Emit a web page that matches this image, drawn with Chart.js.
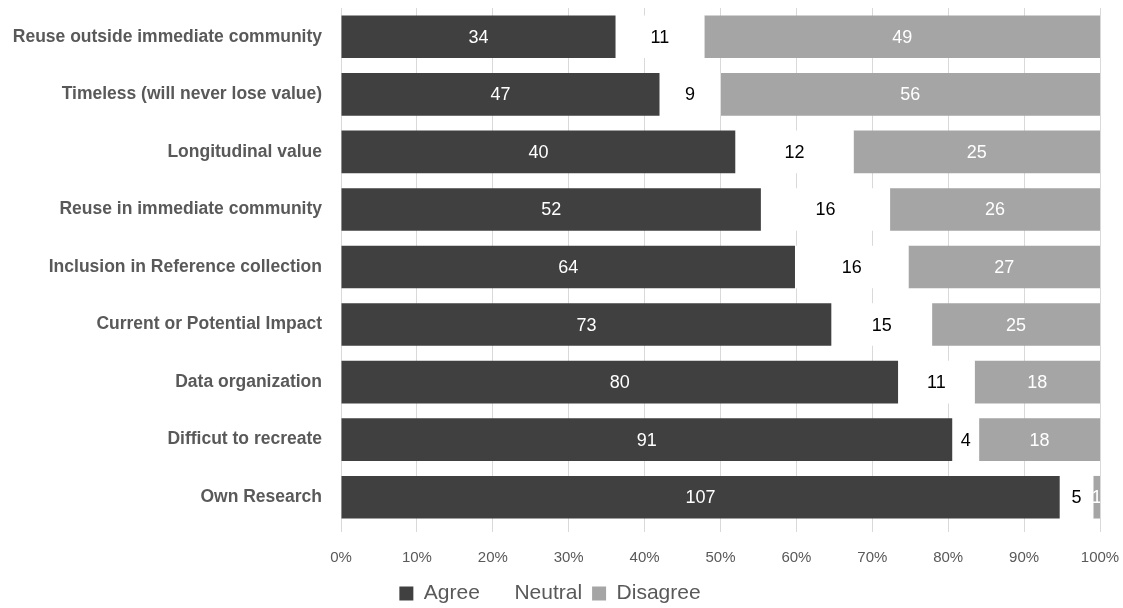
<!DOCTYPE html>
<html>
<head>
<meta charset="utf-8">
<script src="https://cdn.jsdelivr.net/npm/chart.js@4"></script>
<style>
  html, body { margin: 0; padding: 0; background: #fff; }
  #wrap { width: 1123px; height: 608px; }
</style>
</head>
<body>
<div id="wrap"><canvas id="chart"></canvas></div>
<script>
// Survey categories (top to bottom)
const categories = [
    'Reuse outside immediate community',
    'Timeless (will never lose value)',
    'Longitudinal value',
    'Reuse in immediate community',
    'Inclusion in Reference collection',
    'Current or Potential Impact',
    'Data organization',
    'Difficut to recreate',
    'Own Research'
];

// Response counts
const agree    = [34, 47, 40, 52, 64, 73, 80, 91, 107];
const neutral  = [11, 9, 12, 16, 16, 15, 11, 4, 5];
const disagree = [49, 56, 25, 26, 27, 25, 18, 18, 1];

const tickValues = [0, 10, 20, 30, 40, 50, 60, 70, 80, 90, 100];

const totals = agree.map((a, i) => a + neutral[i] + disagree[i]);
const pct = arr => arr.map((v, i) => v / totals[i] * 100);

const FONT = "'Liberation Sans', 'Noto Sans', sans-serif";

// draws the count inside each bar segment
const barLabels = {
    id: 'barLabels',
    afterDatasetsDraw(chart) {
        const ctx = chart.ctx;
        const area = chart.chartArea;
        ctx.save();
        ctx.beginPath();
        ctx.rect(area.left, area.top, area.right - area.left, area.bottom - area.top);
        ctx.clip();
        ctx.font = '18px ' + FONT;
        ctx.textAlign = 'center';
        ctx.textBaseline = 'middle';
        chart.data.datasets.forEach((ds, di) => {
            const meta = chart.getDatasetMeta(di);
            meta.data.forEach((bar, i) => {
                const x = (bar.x + bar.base) / 2;
                ctx.fillStyle = ds.labelColor;
                ctx.fillText(ds.counts[i], x, bar.y + 1);
            });
        });
        ctx.restore();
    }
};

function noPad(scale) {
    scale.paddingLeft = 0;
    scale.paddingRight = 0;
    scale.paddingTop = 0;
    scale.paddingBottom = 0;
}

new Chart(document.getElementById('chart'), {
    type: 'bar',
    data: {
        labels: categories,
        datasets: [
            { label: 'Agree', data: pct(agree), counts: agree, backgroundColor: '#404040', labelColor: '#ffffff' },
            { label: 'Neutral', data: pct(neutral), counts: neutral, backgroundColor: '#ffffff', labelColor: '#000000' },
            { label: 'Disagree', data: pct(disagree), counts: disagree, backgroundColor: '#a5a5a5', labelColor: '#ffffff' }
        ]
    },
    options: {
        indexAxis: 'y',
        responsive: true,
        maintainAspectRatio: false,
        animation: false,
        layout: { padding: { left: 0, right: 23, top: 8, bottom: -6 } },
        datasets: { bar: { categoryPercentage: 1, barPercentage: 0.74 } },
        scales: {
            x: {
                stacked: true,
                min: 0,
                max: 100,
                afterBuildTicks: scale => { scale.ticks = tickValues.map(v => ({ value: v })); },
                afterFit: scale => { noPad(scale); scale.height = 47; },
                grid: { color: '#d9d9d9', tickLength: 6 },
                border: { display: false },
                ticks: {
                    color: '#595959',
                    font: { family: FONT, size: 15 },
                    padding: 17,
                    maxRotation: 0,
                    callback: v => v + '%'
                }
            },
            y: {
                stacked: true,
                afterFit: scale => { noPad(scale); scale.width = 341; },
                grid: { display: false },
                border: { display: true, color: '#d9d9d9' },
                ticks: {
                    color: '#595959',
                    font: { family: FONT, size: 17.5, weight: 'bold' },
                    padding: 11
                }
            }
        },
        plugins: {
            legend: {
                position: 'bottom',
                labels: {
                    color: '#595959',
                    font: { family: FONT, size: 21 },
                    boxWidth: 14,
                    boxHeight: 14,
                    padding: 10
                }
            },
            tooltip: { enabled: false }
        }
    },
    plugins: [barLabels]
});
</script>
</body>
</html>
